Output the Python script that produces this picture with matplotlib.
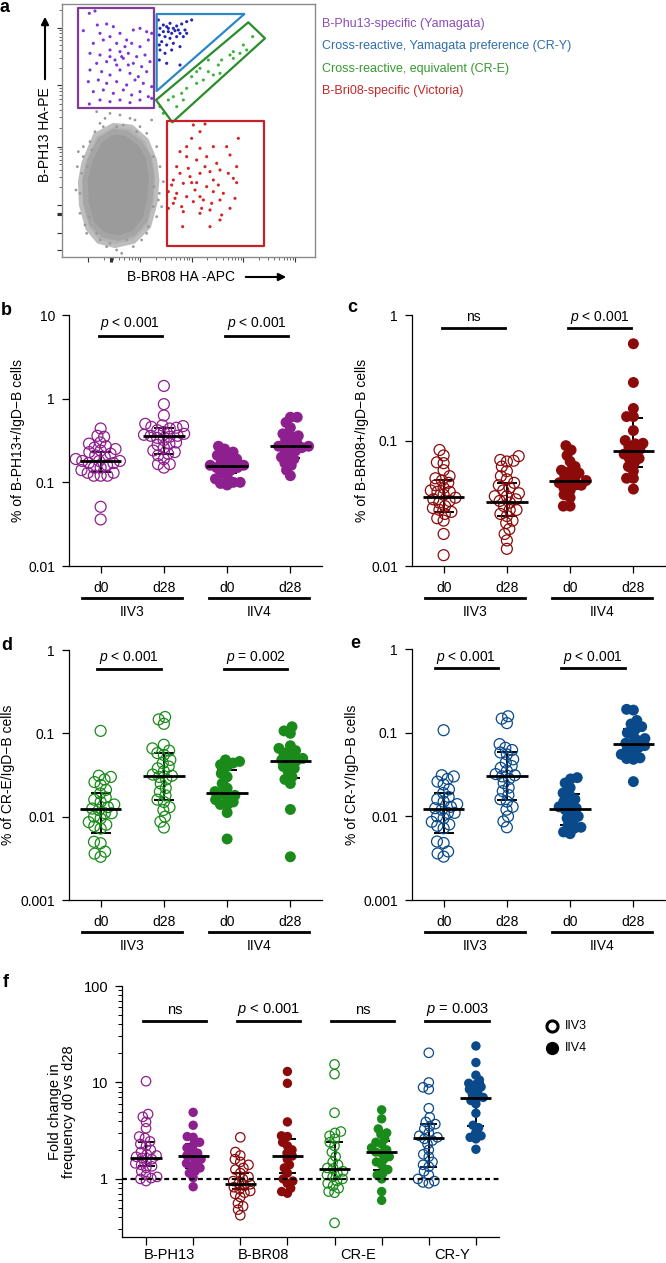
import numpy as np
import matplotlib
matplotlib.use('Agg')
import matplotlib.pyplot as plt
import matplotlib.transforms as mtransforms
from matplotlib.lines import Line2D
from matplotlib.patches import Polygon, FancyArrowPatch

plt.rcParams['font.family'] = ['Liberation Sans', 'DejaVu Sans']
plt.rcParams['mathtext.fontset'] = 'custom'
plt.rcParams['mathtext.it'] = 'Liberation Sans:italic'
plt.rcParams['mathtext.rm'] = 'Liberation Sans'

# ---------------- panel a: flow gates (channel units) ----------------
purple_x = [268, 285, 250, 292, 320, 340, 300, 330, 360, 400, 420, 440, 455, 280, 310, 350, 375, 395, 420, 445,
            270, 300, 330, 360, 385, 410, 435, 290, 320, 345, 370, 400, 425, 450, 270, 305, 330, 360, 390, 415,
            440, 265, 295, 320, 350, 380, 405, 430, 455, 280, 310, 340, 370, 395, 420, 445, 300, 330, 360, 390,
            420, 268, 455, 380, 365, 385, 350, 330]
purple_y = [960, 967, 908, 925, 928, 920, 900, 890, 900, 910, 915, 905, 900, 870, 880, 870, 860, 870, 860, 880,
            840, 835, 850, 845, 840, 830, 835, 810, 815, 820, 825, 810, 800, 815, 790, 785, 775, 790, 780, 770,
            785, 755, 760, 750, 755, 745, 760, 750, 740, 725, 730, 720, 730, 715, 725, 710, 700, 695, 700, 692,
            700, 688, 705, 880, 830, 805, 805, 830]
blue_x = [475, 490, 500, 510, 520, 530, 545, 560, 575, 505, 515, 525, 540, 555, 495, 510, 485, 500, 520, 540,
          480, 495, 478, 530, 550, 490, 480, 505, 535, 560, 515, 478, 500, 540, 478]
blue_y = [940, 925, 920, 930, 915, 922, 928, 935, 940, 905, 900, 908, 900, 910, 890, 885, 875, 865, 870, 860,
          850, 840, 895, 890, 890, 905, 915, 915, 910, 900, 850, 820, 810, 805, 865]
green_x = [480, 505, 520, 490, 545, 560, 590, 610, 590, 625, 640, 655, 665, 690, 700, 720, 740, 758, 730, 600,
           575, 530, 550, 660, 700, 625]
green_y = [680, 700, 710, 660, 720, 735, 750, 760, 785, 785, 775, 805, 820, 835, 825, 840, 850, 890, 865, 795,
           770, 680, 700, 780, 845, 820]
red_x = [580, 615, 600, 560, 600, 640, 680, 715, 530, 560, 590, 620, 650, 690, 710, 540, 570, 600, 630, 660,
         685, 515, 550, 575, 590, 620, 655, 710, 505, 530, 560, 600, 640, 670, 705, 520, 545, 580, 610, 635,
         660, 690, 505, 550, 600, 630, 665, 548, 630, 660, 525, 585, 615, 700, 640, 565, 540, 575, 605, 520]
red_y = [625, 628, 605, 560, 555, 560, 560, 585, 500, 530, 520, 530, 510, 535, 500, 480, 470, 480, 485, 490,
         480, 445, 450, 452, 452, 440, 445, 452, 425, 420, 410, 410, 425, 420, 405, 390, 380, 395, 400, 390,
         400, 375, 375, 365, 360, 370, 355, 320, 320, 340, 405, 430, 500, 465, 460, 495, 545, 585, 375, 460]
gray_halo_x = [250, 285, 340, 395, 440, 465, 472, 466, 447, 402, 345, 295, 262, 243, 240]
gray_halo_y = [510, 595, 625, 620, 580, 520, 460, 390, 320, 275, 262, 275, 315, 385, 455]
gray_core_x = [270, 300, 340, 380, 420, 445, 455, 450, 435, 400, 355, 310, 275, 258, 255]
gray_core_y = [520, 580, 605, 600, 570, 530, 470, 400, 340, 300, 285, 295, 330, 390, 460]
gray_x = [235, 250, 300, 330, 290, 390, 440, 470, 480, 490, 475, 470, 440, 400, 350, 365, 320, 260, 240, 240,
          245, 285, 420, 460, 460, 250, 275, 425, 300, 350, 310, 380, 262, 268, 445, 462, 410, 370, 330, 290,
          232, 228, 478, 485, 455, 270, 315, 405, 360, 255]
gray_y = [545, 560, 630, 660, 665, 645, 600, 560, 500, 455, 400, 350, 300, 260, 250, 240, 260, 300, 360, 420,
          480, 605, 620, 530, 380, 530, 550, 280, 280, 620, 620, 280, 500, 350, 320, 440, 605, 625, 270, 300,
          500, 430, 420, 380, 640, 575, 645, 640, 655, 325]
purple_gate = [(233, 975), (463, 975), (463, 677), (233, 677)]
blue_gate = [(470, 958), (733, 958), (470, 727)]
green_gate = [(468, 700), (745, 933), (795, 885), (517, 633)]
red_gate = [(500, 638), (792, 638), (792, 263), (500, 263)]
gate_names = ['B-Phu13-specific (Yamagata)', 'Cross-reactive, Yamagata preference (CR-Y)',
              'Cross-reactive, equivalent (CR-E)', 'B-Bri08-specific (Victoria)']

# ---------------- panels b-e ----------------
groups_x = ['d0', 'd28', 'd0', 'd28']
vaccines = ['IIV3', 'IIV4']

b_vals = [
    [0.44, 0.36, 0.35, 0.30, 0.29, 0.27, 0.26, 0.25, 0.24, 0.23, 0.22, 0.21, 0.20, 0.19, 0.18, 0.18, 0.18, 0.17,
     0.17, 0.16, 0.15, 0.15, 0.14, 0.13, 0.13, 0.12, 0.12, 0.12, 0.051, 0.036],
    [1.42, 0.86, 0.63, 0.50, 0.48, 0.47, 0.46, 0.45, 0.44, 0.42, 0.40, 0.38, 0.37, 0.36, 0.36, 0.35, 0.34, 0.32,
     0.30, 0.29, 0.28, 0.26, 0.24, 0.23, 0.22, 0.21, 0.19, 0.165, 0.165, 0.15],
    [0.27, 0.25, 0.23, 0.21, 0.21, 0.19, 0.18, 0.17, 0.16, 0.16, 0.155, 0.15, 0.15, 0.14, 0.13, 0.12, 0.11, 0.10,
     0.10, 0.097, 0.093],
    [0.6, 0.6, 0.52, 0.45, 0.38, 0.36, 0.35, 0.32, 0.30, 0.28, 0.27, 0.27, 0.26, 0.25, 0.24, 0.22, 0.20, 0.19,
     0.17, 0.16, 0.14, 0.12]]
b_med = [0.18, 0.36, 0.156, 0.27]
b_q1 = [0.134, 0.22, 0.13, 0.196]
b_q3 = [0.23, 0.45, 0.19, 0.35]

c_vals = [
    [0.084, 0.076, 0.067, 0.066, 0.058, 0.052, 0.05, 0.048, 0.046, 0.044, 0.042, 0.040, 0.039, 0.039, 0.037,
     0.035, 0.034, 0.033, 0.032, 0.030, 0.029, 0.028, 0.027, 0.026, 0.024, 0.023, 0.018, 0.0122],
    [0.075, 0.070, 0.069, 0.068, 0.062, 0.057, 0.052, 0.049, 0.046, 0.044, 0.042, 0.040, 0.038, 0.036, 0.036,
     0.034, 0.033, 0.032, 0.030, 0.028, 0.028, 0.026, 0.025, 0.023, 0.022, 0.0197, 0.018, 0.016, 0.0137],
    [0.091, 0.084, 0.076, 0.068, 0.062, 0.058, 0.057, 0.055, 0.052, 0.050, 0.048, 0.047, 0.046, 0.044, 0.044,
     0.042, 0.040, 0.037, 0.035, 0.030, 0.030],
    [0.59, 0.29, 0.18, 0.155, 0.155, 0.12, 0.10, 0.095, 0.094, 0.09, 0.085, 0.082, 0.078, 0.072, 0.072, 0.066,
     0.062, 0.057, 0.05, 0.05, 0.041]]
c_med = [0.0354, 0.0325, 0.048, 0.082]
c_q1 = [0.0267, 0.0249, 0.041, 0.061]
c_q3 = [0.0487, 0.0457, 0.057, 0.15]

iiv3_cr_d0 = [0.107, 0.031, 0.030, 0.028, 0.026, 0.024, 0.021, 0.019, 0.017, 0.016, 0.015, 0.014, 0.013, 0.0125,
              0.012, 0.011, 0.011, 0.010, 0.0095, 0.0086, 0.0080, 0.0077, 0.0072, 0.0050, 0.0048, 0.0038, 0.0036,
              0.0033]
iiv3_cr_d28 = [0.157, 0.147, 0.13, 0.073, 0.066, 0.062, 0.058, 0.055, 0.048, 0.044, 0.04, 0.038, 0.035, 0.032,
               0.031, 0.030, 0.028, 0.025, 0.022, 0.02, 0.018, 0.016, 0.015, 0.013, 0.012, 0.010, 0.0087, 0.0074]
d_vals = [iiv3_cr_d0, iiv3_cr_d28,
          [0.048, 0.046, 0.044, 0.042, 0.040, 0.033, 0.030, 0.025, 0.022, 0.020, 0.019, 0.018, 0.017, 0.016,
           0.015, 0.014, 0.0138, 0.0112, 0.0054],
          [0.12, 0.107, 0.10, 0.071, 0.066, 0.062, 0.058, 0.055, 0.05, 0.048, 0.047, 0.044, 0.040, 0.038, 0.035,
           0.030, 0.028, 0.025, 0.0122, 0.0033]]
d_med = [0.0124, 0.0305, 0.019, 0.047]
d_q1 = [0.0063, 0.0158, 0.014, 0.029]
d_q3 = [0.019, 0.058, 0.0366, 0.062]

e_vals = [iiv3_cr_d0, iiv3_cr_d28,
          [0.029, 0.028, 0.025, 0.022, 0.019, 0.018, 0.016, 0.015, 0.014, 0.013, 0.0125, 0.012, 0.011, 0.010,
           0.0095, 0.0088, 0.0078, 0.0074, 0.0072, 0.0065, 0.0062],
          [0.19, 0.186, 0.14, 0.127, 0.118, 0.11, 0.10, 0.092, 0.085, 0.08, 0.075, 0.073, 0.07, 0.066, 0.062,
           0.058, 0.055, 0.05, 0.049, 0.048, 0.026]]
e_med = [0.0124, 0.0305, 0.0122, 0.0726]
e_q1 = [0.0063, 0.0158, 0.0078, 0.05]
e_q3 = [0.019, 0.058, 0.0187, 0.11]

# ---------------- panel f ----------------
f_cats = ['B-PH13', 'B-BR08', 'CR-E', 'CR-Y']
f_vals = [
    [10.3, 4.7, 4.4, 3.9, 3.35, 2.75, 2.65, 2.45, 2.3, 2.2, 2.0, 1.9, 1.8, 1.75, 1.7, 1.65, 1.6, 1.5, 1.45, 1.4,
     1.35, 1.3, 1.2, 1.1, 1.05, 1.02, 1.0, 0.95],
    [4.9, 3.6, 2.75, 2.7, 2.4, 2.3, 2.1, 2.0, 1.85, 1.75, 1.7, 1.6, 1.5, 1.45, 1.35, 1.3, 1.2, 1.15, 1.03, 0.83],
    [2.7, 1.9, 1.75, 1.6, 1.5, 1.4, 1.3, 1.25, 1.15, 1.05, 1.0, 0.95, 0.9, 0.88, 0.85, 0.82, 0.78, 0.75, 0.72,
     0.70, 0.65, 0.56, 0.52, 0.48, 0.42],
    [13.0, 9.8, 3.9, 2.8, 2.75, 2.4, 2.2, 2.0, 1.85, 1.73, 1.6, 1.4, 1.3, 1.15, 1.0, 0.95, 0.9, 0.8, 0.74, 0.71],
    [15.4, 12.2, 4.85, 3.1, 3.0, 2.8, 2.6, 2.4, 2.2, 1.9, 1.7, 1.5, 1.4, 1.3, 1.28, 1.2, 1.15, 1.1, 1.05, 1.0,
     0.95, 0.9, 0.85, 0.8, 0.74, 0.72, 0.35],
    [5.2, 4.2, 3.3, 3.0, 2.9, 2.6, 2.4, 2.3, 2.1, 2.0, 1.9, 1.85, 1.7, 1.6, 1.5, 1.4, 1.25, 1.15, 1.1, 1.0, 0.74,
     0.6],
    [20.3, 10.0, 8.9, 8.5, 5.4, 4.35, 3.9, 3.7, 3.5, 3.3, 3.0, 2.8, 2.7, 2.6, 2.5, 2.3, 2.0, 1.8, 1.7, 1.5, 1.4,
     1.34, 1.2, 1.1, 1.0, 0.95, 0.92, 0.9],
    [23.9, 16.1, 11.9, 10.6, 9.8, 9.5, 9.0, 8.5, 8.0, 7.5, 7.0, 6.9, 6.5, 6.0, 4.8, 3.6, 3.4, 3.0, 2.8, 2.7, 2.6,
     2.03]]
f_med = [1.66, 1.74, 0.89, 1.73, 1.28, 1.89, 2.63, 6.9]
f_q1 = [1.36, 1.3, 0.78, 1.14, 1.0, 1.25, 1.34, 3.5]
f_q3 = [2.43, 2.3, 1.15, 2.6, 2.4, 2.5, 3.7, 9.9]

P001 = r'$\it{p}$ < 0.001'
b_sig = [P001, P001]
c_sig = ['ns', P001]
d_sig = [P001, r'$\it{p}$ = 0.002']
e_sig = [P001, P001]
f_sig = ['ns', P001, 'ns', r'$\it{p}$ = 0.003']

PURPLE = '#8E1F8E'
DARKRED = '#8B0B0B'
GREEN = '#1A8A1A'
BLUE = '#0B4A8A'

W, H = 666, 1263
fig = plt.figure(figsize=(W / 100, H / 100), dpi=100)
px = mtransforms.Affine2D().scale(1 / W, -1 / H).translate(0, 1) + fig.transFigure


def add_ax(left, right, top, bottom):
    return fig.add_axes([left / W, 1 - bottom / H, (right - left) / W, (bottom - top) / H])


def ftext(x, y, s, **kw):
    fig.text(x, y, s, transform=px, **kw)


def swarm(ax, xc, vals, diam):
    # simple beeswarm: place each point as close to the centre as it can go
    pts = ax.transData.transform(np.column_stack([np.full(len(vals), float(xc)), vals]))
    ypx = pts[:, 1]
    order = np.argsort(ypx)
    px_list, py_list = [], []
    xs = np.zeros(len(vals))
    for i in order:
        y = ypx[i]
        cands = [0.0]
        for a, b in zip(px_list, py_list):
            dy = y - b
            if abs(dy) < diam:
                dx = np.sqrt(diam ** 2 - dy ** 2)
                cands += [a + dx, a - dx]
        cands = sorted(cands, key=lambda c: (round(abs(c), 3), c))
        best = cands[-1]
        for c in cands:
            if all((c - a) ** 2 + (y - b) ** 2 >= diam ** 2 - 1e-6 for a, b in zip(px_list, py_list)):
                best = c
                break
        px_list.append(best)
        py_list.append(y)
        xs[i] = best
    ppu = ax.transData.transform((1, 1))[0] - ax.transData.transform((0, 1))[0]
    return xc + xs / ppu


def draw_groups(ax, vals_list, meds, q1s, q3s, colors, filled, ms, diam, mw, cw):
    for i, vals in enumerate(vals_list):
        xs = swarm(ax, i, vals, diam)
        ax.vlines(i, q1s[i], q3s[i], color='black', lw=1.4, zorder=1)
        ax.hlines([q1s[i], q3s[i]], i - cw, i + cw, color='black', lw=1.4, zorder=1)
        if filled[i]:
            ax.scatter(xs, vals, s=ms, color=colors[i], edgecolors='none', zorder=2, clip_on=False)
        else:
            ax.scatter(xs, vals, s=ms, facecolors='none', edgecolors=colors[i], linewidths=0.9, zorder=2,
                       clip_on=False)
        ax.hlines(meds[i], i - mw, i + mw, color='black', lw=2.0, zorder=3)


def style_axis(ax):
    for s in ['top', 'right']:
        ax.spines[s].set_visible(False)
    for s in ['left', 'bottom']:
        ax.spines[s].set_linewidth(0.9)
    ax.tick_params(axis='both', which='major', length=5, width=0.9, labelsize=10, pad=5)
    ax.tick_params(axis='y', which='minor', length=0)


def dot_panel(box, vals_list, meds, q1s, q3s, color, ylim, yt, ytl, sig, sig_shift, sig_y, txt_y):
    ax = add_ax(*box)
    ax.set_yscale('log')
    ax.set_ylim(*ylim)
    ax.set_xlim(-0.5, 3.5)
    style_axis(ax)
    ax.set_yticks(yt)
    ax.set_yticklabels(ytl)
    ax.set_xticks(range(4))
    ax.set_xticklabels(groups_x)
    ax.tick_params(axis='x', pad=6)
    draw_groups(ax, vals_list, meds, q1s, q3s, [color] * 4, [False, False, True, True], 62, 6.8, 0.33, 0.16)
    bt = ax.get_xaxis_transform()
    for k, s in enumerate(sig):
        c = 2 * k + 0.5 + sig_shift
        ax.plot([c - 0.5, c + 0.5], [sig_y, sig_y], color='black', lw=2.0, transform=bt, clip_on=False)
        ax.text(c, txt_y, s, ha='center', va='center', fontsize=10, transform=bt)
    hgt = (box[3] - box[2])
    for k, v in enumerate(vaccines):
        c = 2 * k + 0.5
        ax.plot([c - 0.79, c + 0.79], [-32 / hgt] * 2, color='black', lw=2.0, transform=bt, clip_on=False)
        ax.text(c, -46 / hgt, v, ha='center', va='center', fontsize=10, transform=bt)
    return ax


# ---------------- draw panel a ----------------
axa = add_ax(62, 315, 4, 257)
axa.set_xlim(186, 945)
axa.set_ylim(229, 988)
for s in axa.spines.values():
    s.set_color('#8a8a8a')
    s.set_linewidth(1.0)
axa.add_patch(Polygon(list(zip(gray_halo_x, gray_halo_y)), closed=True, facecolor='#b3b3b3',
                      edgecolor='#bdbdbd', lw=3, joinstyle='round', zorder=1))
axa.add_patch(Polygon(list(zip(gray_core_x, gray_core_y)), closed=True, facecolor='#9b9b9b',
                      edgecolor='#a5a5a5', lw=4, joinstyle='round', zorder=1))
axa.scatter(gray_x, gray_y, s=4, color='#999999', edgecolors='none', zorder=1)
axa.scatter(purple_x, purple_y, s=5, color='#7B35D6', edgecolors='none', zorder=2)
axa.scatter(blue_x, blue_y, s=5, color='#2326B0', edgecolors='none', zorder=2)
axa.scatter(green_x, green_y, s=5, color='#3DB33D', edgecolors='none', zorder=2)
axa.scatter(red_x, red_y, s=5, color='#D42323', edgecolors='none', zorder=2)
gate_cols = ['#7D3C98', '#2C87C8', '#2A8C2A', '#C8202A']
for g, col in zip([purple_gate, blue_gate, green_gate, red_gate], gate_cols):
    axa.add_patch(Polygon(g, closed=True, fill=False, edgecolor=col, lw=1.6, joinstyle='round', zorder=3))
xdec = [265, 420, 575, 730]
xmin = [d + 155 * np.log10(k) for d in xdec for k in range(2, 10)]
axa.set_xticks(xdec + [330, 333, 336, 885])
axa.set_xticks(xmin, minor=True)
ydec = [385, 560, 745, 917]
ywid = [175, 185, 172, 172]
ymin = [d + w * np.log10(k) for d, w in zip(ydec, ywid) for k in range(2, 10) if d + w * np.log10(k) < 985]
axa.set_yticks(ydec + [355, 358, 361, 300, 250])
axa.set_yticks(ymin, minor=True)
axa.tick_params(which='major', length=3.5, width=0.8, color='#333333', labelbottom=False, labelleft=False)
axa.tick_params(which='minor', length=2, width=0.6, color='#555555')
leg_cols = ['#8B4DB8', '#2F6EA8', '#359A30', '#C4282A']
for k, (name, col) in enumerate(zip(gate_names, leg_cols)):
    ftext(322, 24 + k * 22.3, name, color=col, fontsize=9, va='center', ha='left')
ftext(45, 135, 'B-PH13 HA-PE', rotation=90, ha='center', va='center', fontsize=10)
fig.add_artist(FancyArrowPatch((45, 82), (45, 14), transform=px, arrowstyle='-|>', mutation_scale=11,
                               lw=1.5, color='black'))
ftext(181, 277, 'B-BR08 HA -APC', ha='center', va='center', fontsize=10)
fig.add_artist(FancyArrowPatch((243, 277), (289, 277), transform=px, arrowstyle='-|>', mutation_scale=11,
                               lw=1.5, color='black'))

# ---------------- panels b-e ----------------
dot_panel((69, 322, 315, 566), b_vals, b_med, b_q1, b_q3, PURPLE, (0.01, 10), [0.01, 0.1, 1, 10],
          ['0.01', '0.1', '1', '10'], b_sig, -0.03, 0.916, 0.968)
dot_panel((412, 665, 315, 566), c_vals, c_med, c_q1, c_q3, DARKRED, (0.01, 1), [0.01, 0.1, 1],
          ['0.01', '0.1', '1'], c_sig, -0.03, 0.948, 0.992)
dot_panel((69, 322, 650, 900), d_vals, d_med, d_q1, d_q3, GREEN, (0.001, 1), [0.001, 0.01, 0.1, 1],
          ['0.001', '0.01', '0.1', '1'], d_sig, -0.05, 0.924, 0.968)
dot_panel((412, 665, 649, 900), e_vals, e_med, e_q1, e_q3, BLUE, (0.001, 1), [0.001, 0.01, 0.1, 1],
          ['0.001', '0.01', '0.1', '1'], e_sig, -0.14, 0.924, 0.968)

ftext(18, 440, '% of B-PH13+/IgD\u2212B cells', rotation=90, ha='center', va='center', fontsize=10)
ftext(362, 440, '% of B-BR08+/IgD\u2212B cells', rotation=90, ha='center', va='center', fontsize=10)
ftext(8, 775, '% of CR-E/IgD\u2212B cells', rotation=90, ha='center', va='center', fontsize=10)
ftext(352, 775, '% of CR-Y/IgD\u2212B cells', rotation=90, ha='center', va='center', fontsize=10)

# ---------------- panel f ----------------
FNAR = ['Liberation Sans Narrow', 'Liberation Sans', 'DejaVu Sans']
axf = add_ax(122, 499, 986, 1237)
axf.set_yscale('log')
axf.set_ylim(0.25, 100)
axf.set_xlim(-0.51, 7.49)
style_axis(axf)
axf.set_yticks([1, 10, 100])
axf.set_yticklabels(['1', '10', '100'], family=FNAR, fontsize=10.5)
axf.yaxis.set_minor_locator(matplotlib.ticker.LogLocator(base=10, subs=np.arange(2, 10)))
axf.yaxis.set_minor_formatter(matplotlib.ticker.NullFormatter())
axf.tick_params(axis='y', which='minor', length=3, width=0.7)
axf.set_xticks(range(8))
axf.set_xticklabels([])
axf.tick_params(axis='x', length=6)
fcols = [PURPLE, PURPLE, DARKRED, DARKRED, GREEN, GREEN, BLUE, BLUE]
draw_groups(axf, f_vals, f_med, f_q1, f_q3, fcols, [False, True] * 4, 46, 6.0, 0.33, 0.18)
axf.axhline(1, color='black', lw=1.6, ls=(0, (2.2, 1.6)), zorder=4)
bt = axf.get_xaxis_transform()
for k, (cat, s) in enumerate(zip(f_cats, f_sig)):
    c = 2 * k + 0.5 + 0.1
    axf.plot([c - 0.67, c + 0.67], [0.861, 0.861], color='black', lw=2.0, transform=bt, clip_on=False)
    axf.text(c, 0.905, s, ha='center', va='center', fontsize=10.5, family=FNAR, transform=bt)
    axf.text(2 * k + 0.5, -18 / 251, cat, ha='center', va='center', fontsize=10.5, family=FNAR, transform=bt)
ftext(62, 1112, 'Fold change in\nfrequency d0 vs d28', rotation=90, ha='center', va='center', fontsize=10.5,
      family=FNAR, linespacing=1.0)
fig.add_artist(Line2D([552], [1026], transform=px, marker='o', markersize=8, markerfacecolor='white',
                      markeredgecolor='black', markeredgewidth=2.2))
fig.add_artist(Line2D([552], [1048], transform=px, marker='o', markersize=8.5, markerfacecolor='black',
                      markeredgecolor='black'))
ftext(565, 1026, 'IIV3', ha='left', va='center', fontsize=9, family=FNAR)
ftext(565, 1048, 'IIV4', ha='left', va='center', fontsize=9, family=FNAR)

# ---------------- panel letters ----------------
for ch, x, y in [('a', 0, 12), ('b', 1, 315), ('c', 347, 312), ('d', 1, 650), ('e', 350, 648), ('f', 3, 987)]:
    ftext(x, y, ch, fontsize=13, fontweight='bold', ha='left', va='baseline')

fig.savefig('out.png', dpi=100)
